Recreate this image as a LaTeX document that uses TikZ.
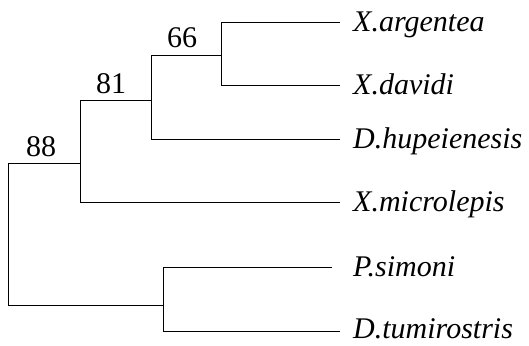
\documentclass[tikz,border=0pt]{standalone}
\usepackage{fontspec}
\setmainfont{Liberation Serif}
\begin{document}
\begin{tikzpicture}[x=1pt,y=-1pt,
  branch/.style={draw=black,line width=1pt},
  taxon/.style={anchor=base west,inner sep=0pt,font=\fontsize{30}{34}\selectfont\itshape},
  support/.style={anchor=base,inner sep=0pt,font=\fontsize{30}{34}\selectfont}]
\useasboundingbox (0,0) rectangle (529,345);
% internal nodes (junction points)
\coordinate (root) at (8,234);
\coordinate (c88) at (80,163);
\coordinate (c81) at (151,100);
\coordinate (c66) at (221,55);
\coordinate (cP) at (163,305);
% tip ends
\coordinate (e1) at (340,23);
\coordinate (e2) at (340,85);
\coordinate (e3) at (340,139);
\coordinate (e4) at (340,202);
\coordinate (e5) at (332,267);
\coordinate (e6) at (340,331);
% taxon labels
\node[taxon] (t1) at (353,32) {X.argentea};
\node[taxon] (t2) at (353,94) {X.davidi};
\node[taxon] (t3) at (353,148) {D.hupeienesis};
\node[taxon] (t4) at (353,211) {X.microlepis};
\node[taxon] (t5) at (353,276) {P.simoni};
\node[taxon] (t6) at (353,338) {D.tumirostris};
% support values
\node[support] (s88) at (41,156) {88};
\node[support] (s81) at (111,93) {81};
\node[support] (s66) at (182,48) {66};
% branches
\draw[branch] (root) |- (c88);
\draw[branch] (root) |- (cP);
\draw[branch] (c88) |- (c81);
\draw[branch] (c88) |- (e4);
\draw[branch] (c81) |- (c66);
\draw[branch] (c81) |- (e3);
\draw[branch] (c66) |- (e1);
\draw[branch] (c66) |- (e2);
\draw[branch] (cP) |- (e5);
\draw[branch] (cP) |- (e6);
\end{tikzpicture}
\end{document}
